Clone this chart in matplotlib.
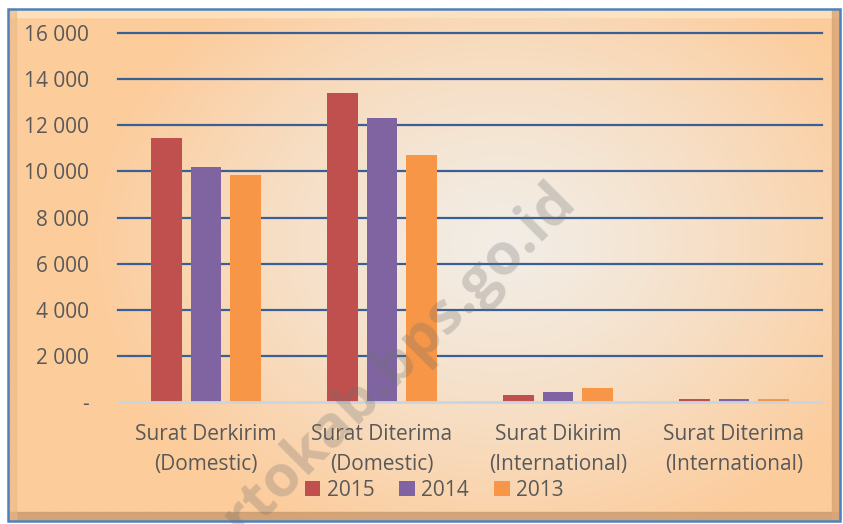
import numpy as np
import matplotlib.pyplot as plt
from matplotlib.patches import Rectangle

# data
categories = ['Surat Derkirim\n(Domestic)', 'Surat Diterima\n(Domestic)',
              'Surat Dikirim\n(International)', 'Surat Diterima\n(International)']
years = ['2015', '2014', '2013']
v2015 = [11450, 13400, 300, 140]
v2014 = [10190, 12310, 420, 130]
v2013 = [9840, 10710, 610, 120]
colors = ['#C0504D', '#8064A2', '#F79646']
yticks = [0, 2000, 4000, 6000, 8000, 10000, 12000, 14000, 16000]

W, H = 843, 524
fig = plt.figure(figsize=(W / 100, H / 100), dpi=100)
fig.patch.set_facecolor('white')

# background panel with radial-ish gradient
bg = fig.add_axes([0, 0, 1, 1])
bg.set_xlim(0, W)
bg.set_ylim(H, 0)
bg.axis('off')
xx, yy = np.meshgrid(np.linspace(0, W, 300), np.linspace(0, H, 200))
r = np.sqrt(((xx - 500) / 420) ** 2 + ((yy - 240) / 330) ** 2)
r = np.clip(r, 0, 1)
c_in = np.array([0.95, 0.93, 0.90])
c_out = np.array([0.99, 0.80, 0.61])
img = c_in[None, None, :] * (1 - r[..., None] ** 1.3) + c_out[None, None, :] * (r[..., None] ** 1.3)
bg.imshow(img, extent=[9, 840, 520, 9], aspect='auto', zorder=0)
# bevel edges
bg.add_patch(Rectangle((9, 9), 831, 8, color='#FDE6C2', alpha=0.8, zorder=1))
bg.add_patch(Rectangle((9, 512), 831, 8, color='#C99B70', alpha=0.8, zorder=1))
bg.add_patch(Rectangle((832, 9), 8, 511, color='#D9A677', alpha=0.8, zorder=1))
bg.add_patch(Rectangle((9, 9), 7, 511, color='#E8B888', alpha=0.6, zorder=1))
bg.add_patch(Rectangle((8, 8.5), 832, 512, fill=False, edgecolor='#4F81BD', lw=1.8, zorder=2))

ax = fig.add_axes([118 / W, 1 - 402 / H, (822 - 118) / W, (402 - 33) / H])
ax.patch.set_alpha(0)
x = np.arange(len(categories))
bw = 0.176
off = 0.222
for i, (vals, yr) in enumerate(zip([v2015, v2014, v2013], years)):
    ax.bar(x + (i - 1) * off, vals, bw, color=colors[i], label=yr, zorder=3)

ax.set_xlim(-0.5, 3.5)
ax.set_ylim(0, 16000)
ax.set_yticks(yticks)
ax.set_yticklabels(['-' if v == 0 else f'{v:,}'.replace(',', ' ') for v in yticks])
for v in yticks[1:]:
    ax.axhline(v, color='#3A5F94', lw=1.6, zorder=1, clip_on=False)
ax.axhline(0, color='#C9D5E2', lw=2, zorder=4, clip_on=False)
for s in ax.spines.values():
    s.set_visible(False)
ax.tick_params(axis='y', length=0, pad=21, labelsize=15, labelcolor='#595959')
ax.tick_params(axis='x', length=0, pad=16, labelsize=15, labelcolor='#595959')
ax.set_xticks(x)
ax.set_xticklabels(categories, linespacing=1.55)
for t in ax.get_xticklabels() + ax.get_yticklabels():
    t.set_family('Open Sans')

leg = fig.legend(loc='center', bbox_to_anchor=(434 / W, 1 - 490 / H), ncol=3, frameon=False,
                 handlelength=0.75, handleheight=0.75, handletextpad=0.3, columnspacing=1.2,
                 prop={'family': 'Open Sans', 'size': 15})
for t in leg.get_texts():
    t.set_color('#595959')

# watermark on top of everything
fig.text(567 / W, 1 - 192 / H, 'mojokertokab.bps.go.id', fontsize=42, fontweight='bold',
         color='#707070', alpha=0.28, rotation=45, rotation_mode='anchor', ha='right',
         va='center', family='Open Sans', zorder=10)

fig.savefig('out.png', dpi=100)
